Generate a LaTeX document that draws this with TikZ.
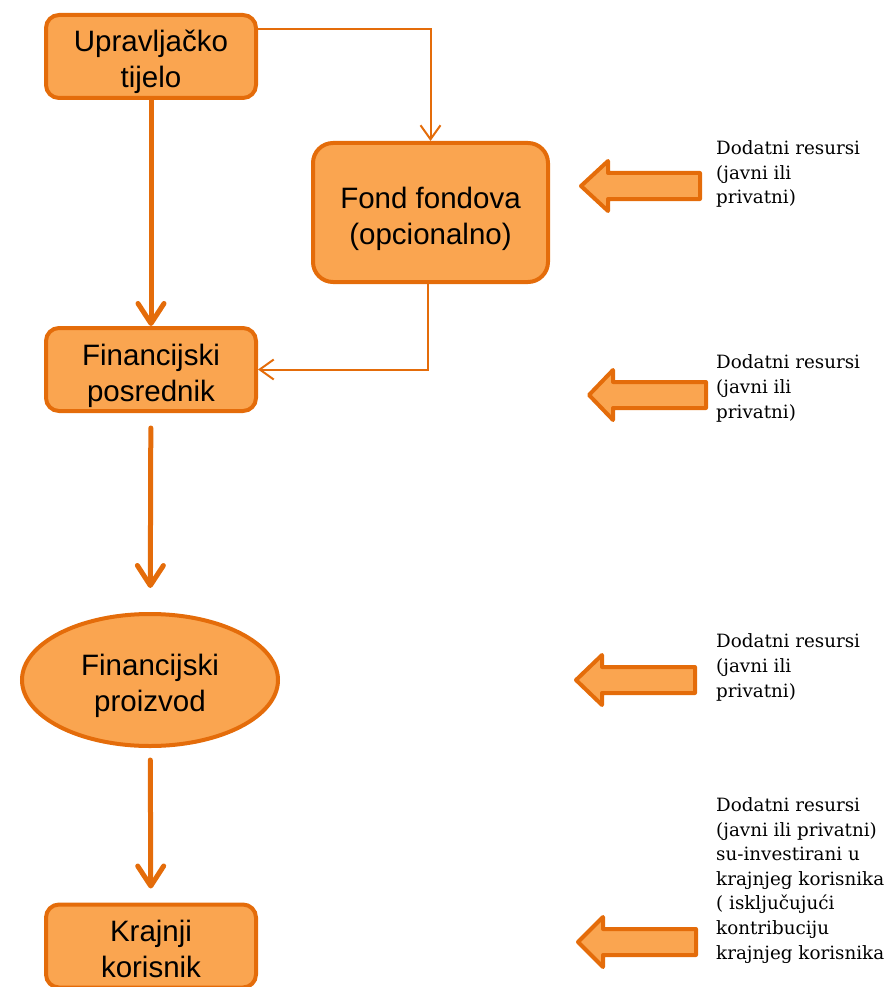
\documentclass[tikz,border=0pt]{standalone}
\usepackage{fontspec}
\setmainfont{Liberation Sans}
\newfontfamily\notefont{DejaVu Serif}
\usetikzlibrary{arrows.meta}
\usetikzlibrary{shapes.geometric}

\definecolor{boxfill}{RGB}{250,165,80}
\definecolor{boxline}{RGB}{228,108,10}

\tikzset{
    box/.style={draw=boxline, fill=boxfill, line width=4pt, rounded corners=13pt,
        align=center, inner sep=0pt, font=\fontsize{29.5}{36}\selectfont,
        text height=69pt, text depth=6pt},
    oval/.style={box, ellipse, rounded corners=0pt},
    bigarrow/.style={draw=boxline, line width=5pt, line cap=round,
        -{Straight Barb[length=20pt, width=26pt, round]}},
    thinarrow/.style={draw=boxline, line width=2pt,
        -{Straight Barb[length=14pt, width=20pt]}},
    fatarrow/.style={draw=boxline, fill=boxfill, line width=4pt, line join=round},
    % base of a note = baseline of its last line
    note/.style={anchor=base west, align=left, inner sep=0pt,
        font=\notefont\fontsize{18.3}{24.6}\selectfont}
}

\begin{document}
\begin{tikzpicture}[x=1pt, y=-1pt]
    % page frame, same as the slide
    \clip (0,0) rectangle (888,987);

    % main chain on the left
    \node [box, minimum width=210pt, minimum height=83pt] (upr) at (151,56.5) {Upravljačko\\tijelo};
    \node [box, minimum width=235pt, minimum height=139pt, rounded corners=20pt] (fond) at (430.5,212.5) {Fond fondova\\(opcionalno)};
    \node [box, minimum width=210pt, minimum height=83pt] (posr) at (151,369.5) {Financijski\\posrednik};
    \node [oval, minimum width=256pt, minimum height=132pt] (proiz) at (150,680) {Financijski\\proizvod};
    \node [box, minimum width=210pt, minimum height=83pt] (kor) at (151,946) {Krajnji\\korisnik};

    % thick arrows down
    \draw [bigarrow] (upr) -- (posr);
    \draw [bigarrow, shorten <=15pt, shorten >=24pt] (posr) -- (proiz);
    \draw [bigarrow, shorten <=12pt, shorten >=14pt] (proiz) -- (kor);

    % thin arrows through the fund of funds
    \draw [thinarrow] ([yshift=-16pt]upr.north east) -| (fond.north);
    \draw [thinarrow] ([xshift=-3pt]fond.south) |- (posr.east);

    % side arrows, pointing left
    \draw [fatarrow] (581,186) -- ++(27,-25) -- ++(0,12) -- ++(92,0) -- ++(0,26) -- ++(-92,0) -- ++(0,12) -- cycle;
    \draw [fatarrow] (589,395) -- ++(24,-25) -- ++(0,12) -- ++(93,0) -- ++(0,26) -- ++(-93,0) -- ++(0,12) -- cycle;
    \draw [fatarrow] (576,680) -- ++(26,-25) -- ++(0,12) -- ++(93,0) -- ++(0,26) -- ++(-93,0) -- ++(0,12) -- cycle;
    \draw [fatarrow] (578,942) -- ++(25,-25) -- ++(0,12) -- ++(93,0) -- ++(0,26) -- ++(-93,0) -- ++(0,12) -- cycle;

    % notes
    \node [note] (res1) at (716,204) {Dodatni resursi\\(javni ili\\privatni)};
    \node [note] (res2) at (716,418) {Dodatni resursi\\(javni ili\\privatni)};
    \node [note] (res3) at (716,697) {Dodatni resursi\\(javni ili\\privatni)};
    \node [note] (res4) at (716,959) {Dodatni resursi\\(javni ili privatni)\\su-investirani u\\krajnjeg korisnika\\( isključujući\\kontribuciju\\krajnjeg korisnika};
\end{tikzpicture}
\end{document}
